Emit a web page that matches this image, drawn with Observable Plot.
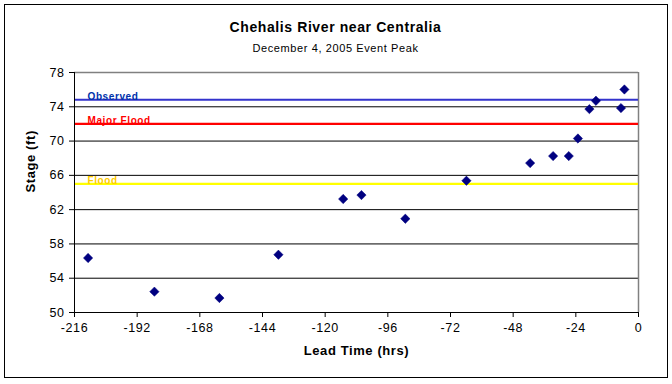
<!DOCTYPE html>
<html><head><meta charset="utf-8">
<script src="https://cdn.jsdelivr.net/npm/d3@7"></script>
<script src="https://cdn.jsdelivr.net/npm/@observablehq/plot@0.6"></script>
<style>body{margin:0;background:#fff;}</style>
</head><body><div id="chart"></div>
<script>
const leadHours = [-210.8, -185.4, -160.5, -137.9, -113.1, -106.1, -89.3, -65.9, -41.5, -32.7, -26.7, -23.2, -18.8, -16.3, -6.7, -5.4];
const stageFt   = [56.36, 52.43, 51.69, 56.74, 63.24, 63.7, 60.94, 65.37, 67.43, 68.25, 68.25, 70.3, 73.73, 74.7, 73.85, 76.02];
const refNames = ["Observed", "Major Flood", "Flood"];
const refValues = [74.82, 72, 65];
const refLineColors = ["#3333cc", "#ff0000", "#ffff00"];
const refTextColors = ["#0033aa", "#ff0000", "#ffcc00"];
const xTicks = [-216, -192, -168, -144, -120, -96, -72, -48, -24, 0];
const yTicks = [50, 54, 58, 62, 66, 70, 74, 78];
const gridValues = [54, 58, 62, 66, 70, 74];
const titleText = "Chehalis River near Centralia";
const subtitleText = "December 4, 2005 Event Peak";
const xLabel = "Lead Time (hrs)";
const yLabel = "Stage (ft)";

const points = leadHours.map((h, i) => ({h, s: stageFt[i]}));
const refs = refNames.map((n, i) => ({name: n, value: refValues[i], line: refLineColors[i], txt: refTextColors[i]}));

const chart = Plot.plot({
  width: 672, height: 384,
  marginLeft: 74, marginRight: 34, marginTop: 72, marginBottom: 72,
  style: {fontFamily: "'Liberation Sans', Arial, sans-serif", fontSize: "12.5px", background: "#fff", color: "#000", letterSpacing: "0.6px"},
  x: {domain: [-216, 0]},
  y: {domain: [50, 78]},
  marks: [
    Plot.ruleY(gridValues, {stroke: "#000", strokeWidth: 1}),
    Plot.ruleY([78], {stroke: "#808080", strokeWidth: 1.5}),
    Plot.ruleX([0], {stroke: "#808080", strokeWidth: 1.5}),
    Plot.ruleY(refs, {y: "value", stroke: "line", strokeWidth: 2.2}),
    Plot.text(refs, {x: -216, y: "value", text: "name", fill: "txt", dx: 13, dy: 0, textAnchor: "start", lineAnchor: "bottom", fontWeight: "bold", fontSize: 10, letterSpacing: "0.3px"}),
    Plot.axisX({ticks: xTicks, tickSize: 5, tickPadding: 6, tickFormat: d => String(d), label: null, stroke: "#000"}),
    Plot.axisY({ticks: yTicks, tickSize: 5, tickPadding: 5, tickFormat: d => String(d), label: null}),
    Plot.ruleX([-216], {stroke: "#000", strokeWidth: 1}),
    Plot.ruleY([50], {stroke: "#000", strokeWidth: 1}),
    Plot.dot(points, {x: "h", y: "s", symbol: "diamond2", r: 4.2, fill: "#000080", stroke: "#000080", strokeWidth: 0.5}),
    Plot.text([titleText], {frameAnchor: "top", dx: -21, dy: -50, fontWeight: "bold", fontSize: 14, text: d => d, letterSpacing: "2px"}),
    Plot.text([subtitleText], {frameAnchor: "top", dx: -21, dy: -28, fontSize: 11, text: d => d, letterSpacing: "0.7px"}),
    Plot.text([xLabel], {frameAnchor: "bottom", dy: 42, fontWeight: "bold", fontSize: 13, text: d => d, letterSpacing: "1px"}),
    Plot.text([yLabel], {frameAnchor: "left", dx: -44, rotate: -90, fontWeight: "bold", fontSize: 13, text: d => d, letterSpacing: "1px"})
  ]
});
d3.select(chart).append("rect").attr("x", 4.5).attr("y", 4.5).attr("width", 663).attr("height", 373)
  .attr("fill", "none").attr("stroke", "#000").attr("stroke-width", 1);
document.getElementById("chart").appendChild(chart);
</script>
</body></html>
